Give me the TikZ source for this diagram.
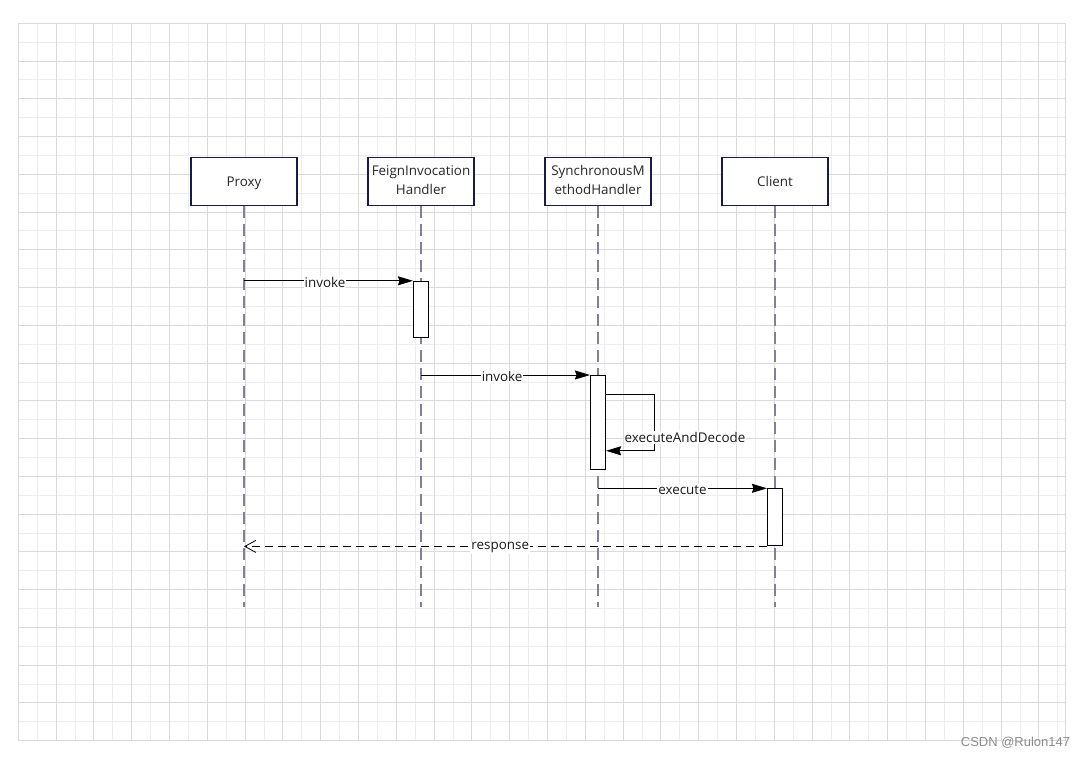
\documentclass[tikz,border=0pt]{standalone}
\usepackage{fontspec}
\setmainfont{Open Sans}
\newfontfamily\wmfont{Liberation Sans}
\usetikzlibrary{arrows.meta,calc}
\definecolor{gridmajor}{HTML}{DADADA}
\definecolor{gridminor}{HTML}{EDEDED}
\definecolor{headborder}{HTML}{1A1A4A}
\definecolor{lifeline}{HTML}{80809A}
\definecolor{wmgray}{HTML}{8C8C8C}
\newcommand{\headone}[1]{\raisebox{-5.3pt}[0pt][0pt]{#1}}
\newcommand{\headtwo}[2]{\raisebox{-1.5pt}{\renewcommand{\arraystretch}{1}\setlength{\tabcolsep}{0pt}\begin{tabular}{c}#1\\[0.5pt]#2\end{tabular}}}
\begin{document}
\begin{tikzpicture}[x=1pt,y=-1pt,
  majorline/.style={draw=gridmajor,line width=1pt},
  minorline/.style={draw=gridminor,line width=1pt},
  head/.style={draw=headborder,line width=1.1pt,fill=white,minimum width=106pt,minimum height=48pt,inner sep=0pt,align=center,font=\fontsize{13.4}{19}\selectfont,text=black!85},
  act/.style={draw=black,line width=1.1pt,fill=white,minimum width=15pt,inner sep=0pt,anchor=north},
  life/.style={draw=lifeline,line width=2.3pt,dash pattern=on 12pt off 6pt},
  msg/.style={draw=black,line width=0.9pt,-{Stealth[length=15pt,width=9pt,inset=1.5pt]}},
  ret/.style={draw=black,line width=0.9pt,dash pattern=on 8pt off 5pt,-{Straight Barb[length=11pt,width=12pt,line width=0.8pt]}},
  lbl/.style={fill=white,inner sep=1pt,yshift=-1.5pt,font=\fontsize{13.4}{16}\selectfont,text=black!90}
]
\useasboundingbox (0,0) rectangle (1086,758);
\fill[white] (0,0) rectangle (1086,758);
% grid
\foreach \i in {1,3,...,55} \draw[minorline] ({18.3+18.9*\i},23.3) -- ({18.3+18.9*\i},740.7);
\foreach \j in {1,3,...,37} \draw[minorline] (18.3,{23.3+18.88*\j}) -- (1065,{23.3+18.88*\j});
\foreach \i in {0,2,...,54} \draw[majorline] ({18.3+18.9*\i},23.3) -- ({18.3+18.9*\i},740.7);
\foreach \j in {0,2,...,38} \draw[majorline] (18.3,{23.3+18.88*\j}) -- (1065,{23.3+18.88*\j});
\draw[majorline] (1065,23.3) -- (1065,740.7);

% heads
\node[head] (p) at (244,181.2) {\headone{Proxy}};
\node[head] (f) at (421,181.2) {\headtwo{FeignInvocation}{Handler}};
\node[head] (s) at (598,181.2) {\headtwo{SynchronousM}{ethodHandler}};
\node[head] (c) at (775,181.2) {\headone{Client}};

% lifeline ends
\coordinate (pe) at (244,607);
\coordinate (fe) at (421,607);
\coordinate (se) at (598,607);
\coordinate (ce) at (775,607);
\draw[life] (p.south) -- (pe);
\draw[life] (f.south) -- (fe);
\draw[life] (s.south) -- (se);
\draw[life] (c.south) -- (ce);

% activations
\node[act,minimum height=56.5pt] (a1) at (421,280.8) {};
\node[act,minimum height=94pt] (a2) at (598,375) {};
\node[act,minimum height=57pt] (a3) at (775,488.3) {};

% messages
\draw[msg] (p |- a1.north west) -- (a1.north west) node[lbl,pos=0.48] {invoke};
\draw[msg] (f |- a2.north west) -- (a2.north west) node[lbl,pos=0.48] {invoke};
\coordinate (sc1) at ($(a2.north east)+(0,19.3)$);
\coordinate (sc2) at ($(a2.north east)+(48,19.3)$);
\coordinate (sc3) at ($(a2.north east)+(48,75.8)$);
\coordinate (sc4) at ($(a2.north east)+(0,75.8)$);
\draw[msg] (sc1) -- (sc2) -- (sc3) -- (sc4);
\node[lbl] (eadl) at (685,436) {executeAndDecode};
\draw[msg] (s |- a3.north west) -- (a3.north west) node[lbl,midway] {execute};
\draw[ret] (a3.south west) -- (p |- a3.south west) node[lbl,pos=0.51] {response};

% watermark
\node[text=wmgray,font=\wmfont\fontsize{13}{13}\selectfont,inner sep=0pt] (wm) at (1015.5,743) {CSDN @Rulon147};
\end{tikzpicture}
\end{document}
